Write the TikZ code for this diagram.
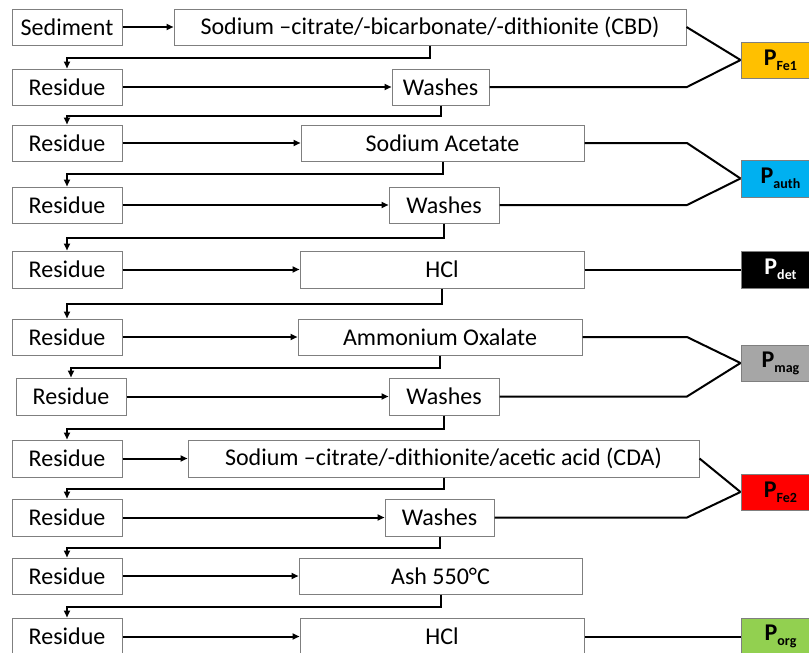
\documentclass[tikz,border=0pt]{standalone}
\usepackage{fontspec}
\setmainfont{Carlito}
\usetikzlibrary{arrows.meta}
\definecolor{bordergray}{HTML}{7F7F7F}
\definecolor{pgold}{HTML}{FFC000}
\definecolor{pblue}{HTML}{00B0F0}
\definecolor{pgray}{HTML}{A6A6A6}
\definecolor{pred}{HTML}{FF0000}
\definecolor{pgreen}{HTML}{92D050}
\newcommand{\plabel}[1]{\textbf{P}\raisebox{-5pt}{\fontsize{14}{14}\selectfont\bfseries #1}}
\begin{document}
\begin{tikzpicture}[x=1pt,y=-1pt,
  box/.style={draw=bordergray,line width=1pt,fill=white,rectangle,inner sep=0pt,
    minimum height=36pt,font=\fontsize{24}{28}\selectfont},
  rbox/.style={box,minimum width=110pt},
  pbox/.style={draw=bordergray,line width=1pt,rectangle,inner sep=0pt,minimum width=79pt,
    minimum height=36pt,font=\fontsize{24}{28}\selectfont},
  conn/.style={line width=2pt,black},
  arr/.style={conn,-{Triangle[length=7pt,width=6pt]}}]
\useasboundingbox (0,0) rectangle (809,653);
\clip (0,0) rectangle (809,653);
\fill[white] (0,0) rectangle (809,653);
% left column
\node[rbox] (sed) at (67,27) {Sediment};
\node[rbox] (r1) at (67,87) {Residue};
\node[rbox] (r2) at (67,143) {Residue};
\node[rbox] (r3) at (67,205) {Residue};
\node[rbox,minimum height=37pt] (r4) at (67,269.5) {Residue};
\node[rbox] (r5) at (67,337) {Residue};
\node[rbox,minimum height=37pt] (r6) at (71,396.5) {Residue};
\node[rbox,minimum height=37pt] (r7) at (67,458.5) {Residue};
\node[rbox,minimum height=37pt] (r8) at (67,517.5) {Residue};
\node[rbox] (r9) at (67,576) {Residue};
\node[rbox,minimum height=37pt] (r10) at (67,636.5) {Residue};
% middle column
\node[box,minimum width=512pt] (cbd) at (430,27) {Sodium \textendash citrate/-bicarbonate/-dithionite (CBD)};
\node[box,minimum width=97pt] (w1) at (440.5,87) {Washes};
\node[box,minimum width=283pt] (sa) at (442.5,143) {Sodium Acetate};
\node[box,minimum width=110pt] (w2) at (444,205) {Washes};
\node[box,minimum width=284pt,minimum height=37pt] (hcl1) at (442,269.5) {HCl};
\node[box,minimum width=284pt] (ao) at (440,337) {Ammonium Oxalate};
\node[box,minimum width=110pt,minimum height=37pt] (w3) at (444,396.5) {Washes};
\node[box,minimum width=511pt,minimum height=37pt] (cda) at (443.5,458.5) {Sodium \textendash citrate/-dithionite/acetic acid (CDA)};
\node[box,minimum width=109pt,minimum height=37pt] (w4) at (439.5,517.5) {Washes};
\node[box,minimum width=283pt] (ash) at (440.5,576) {Ash 550\textdegree C};
\node[box,minimum width=284pt,minimum height=37pt] (hcl2) at (442,636.5) {HCl};
% P boxes
\node[pbox,fill=pgold] (pfe1) at (780.5,60) {\plabel{Fe1}};
\node[pbox,fill=pblue,minimum height=37pt] (pauth) at (780.5,178.5) {\plabel{auth}};
\node[pbox,fill=black,text=white,minimum height=37pt] (pdet) at (780.5,269.5) {\plabel{det}};
\node[pbox,fill=pgray] (pmag) at (780.5,363) {\plabel{mag}};
\node[pbox,fill=pred] (pfe2) at (780.5,492) {\plabel{Fe2}};
\node[pbox,fill=pgreen,minimum height=37pt] (porg) at (780.5,636.5) {\plabel{org}};
\coordinate (kx) at (687,0);
% forward arrows
\draw[arr] (sed) -- (cbd);
\draw[arr] (r1) -- (w1);
\draw[arr] (r2) -- (sa);
\draw[arr] (r3) -- (w2);
\draw[arr] (r4) -- (hcl1);
\draw[arr] (r5) -- (ao);
\draw[arr] (r6) -- (w3);
\draw[arr] (r7) -- (cda);
\draw[arr] (r8) -- (w4);
\draw[arr] (r9) -- (ash);
\draw[arr] (r10) -- (hcl2);
% return arrows
\draw[arr] (cbd.south) -- ++(0,12) -| (r1.north);
\draw[arr] (w1.south) -- ++(0,10) -| (r2.north);
\draw[arr] (sa.south) -- ++(0,12) -| (r3.north);
\draw[arr] (w2.south) -- ++(0,14) -| (r4.north);
\draw[arr] (hcl1.south) -- ++(0,15) -| (r5.north);
\draw[arr] (ao.south) -- ++(0,12) -| (r6.north);
\draw[arr] (w3.south) -- ++(0,13) -| (r7.north);
\draw[arr] (cda.south) -- ++(0,11) -| (r8.north);
\draw[arr] (w4.south) -- ++(0,11) -| (r9.north);
\draw[arr] (ash.south) -- ++(0,12) -| (r10.north);
% to P boxes
\draw[conn] (cbd.east) -- (pfe1.west);
\draw[conn] (w1.east) -- (w1.east -| kx) -- (pfe1.west);
\draw[conn] (sa.east) -- (sa.east -| kx) -- (pauth.west);
\draw[conn] (w2.east) -- (w2.east -| kx) -- (pauth.west);
\draw[conn] (hcl1.east) -- (pdet.west);
\draw[conn] (ao.east) -- (ao.east -| kx) -- (pmag.west);
\draw[conn] (w3.east) -- (w3.east -| kx) -- (pmag.west);
\draw[conn] (cda.east) -- (pfe2.west);
\draw[conn] (w4.east) -- (w4.east -| kx) -- (pfe2.west);
\draw[conn] (hcl2.east) -- (porg.west);
\end{tikzpicture}
\end{document}
